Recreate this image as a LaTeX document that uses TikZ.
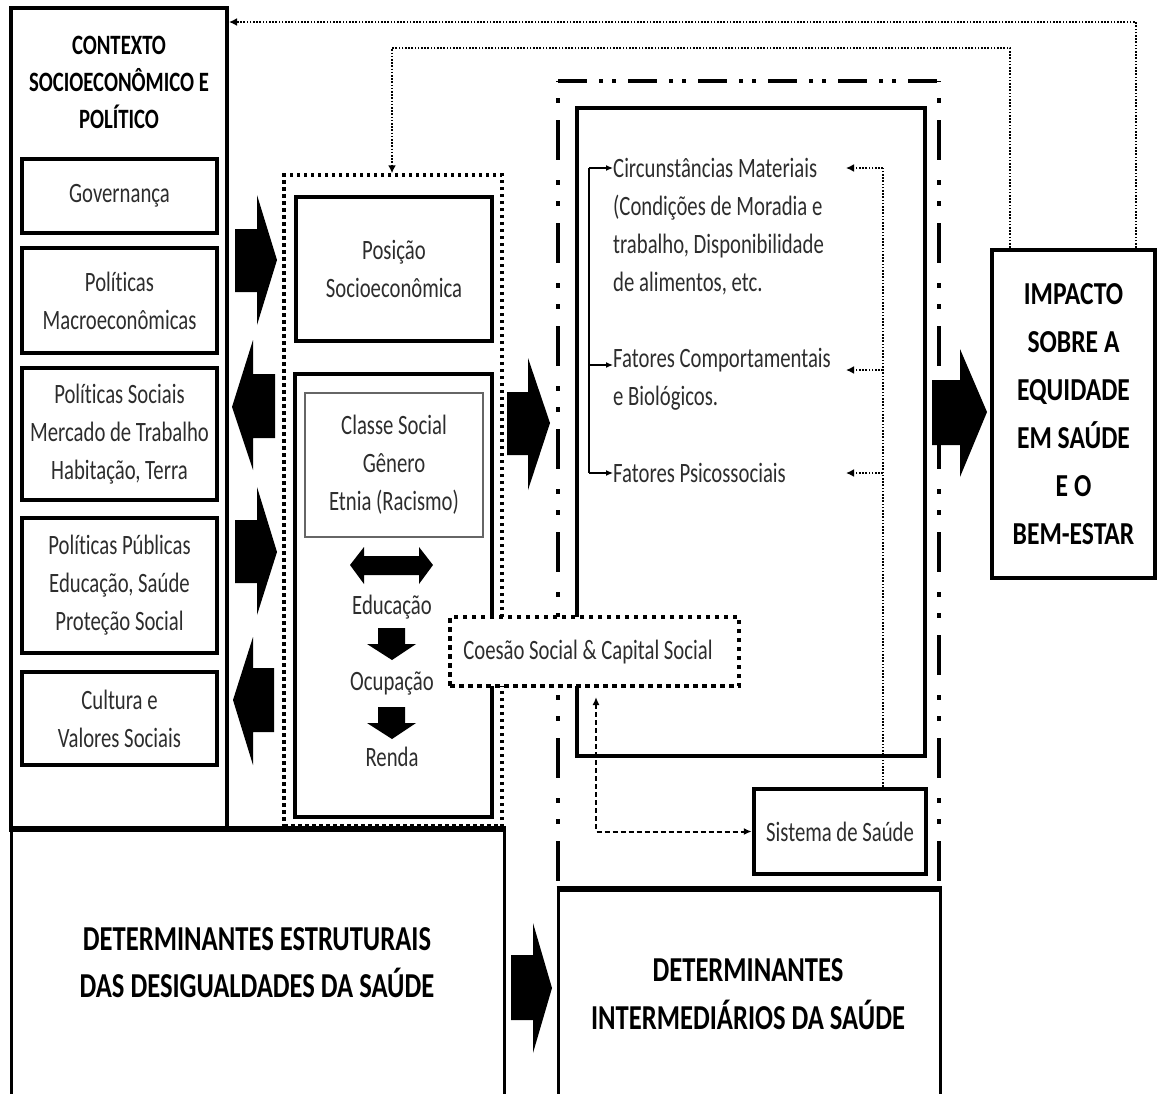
\documentclass[tikz,border=0pt]{standalone}
\usepackage{fontspec}
\defaultfontfeatures{Ligatures={NoCommon,NoContextual,NoRare,NoRequired},Contextuals=NoAlternate}
\setmainfont{Carlito}[FakeStretch=0.74]
\newfontfamily\impfont{Carlito}[FakeStretch=0.8]
\newfontfamily\detfont{Carlito}[FakeStretch=0.76]
\usetikzlibrary{arrows.meta}
\definecolor{txt}{RGB}{45,45,45}
\tikzset{
  txtn/.style={inner sep=0pt, align=center, text=txt, font=\fontsize{28}{38}\selectfont},
  boldn/.style={inner sep=0pt, align=center, text=black, font=\fontsize{28}{37}\selectfont\bfseries},
  boxa/.style={draw=black, line width=4.5pt, fill=white, inner sep=0pt, align=center, text=txt, font=\fontsize{28}{38}\selectfont},
  thinbox/.style={draw=black!60, line width=1.3pt, fill=white, inner sep=0pt, align=center, text=txt, font=\fontsize{28}{38}\selectfont},
  dotbox/.style={draw=black, line width=3.5pt, dash pattern=on 3.5pt off 3.5pt},
  coesbox/.style={draw=black, line width=4pt, dash pattern=on 4.5pt off 4.5pt, fill=white},
  bigbox/.style={draw=black, line width=3pt, fill=white, inner sep=0pt},
  fbline/.style={line width=1.6pt, dash pattern=on 1.6pt off 1.6pt},
  fbtip/.style={-{Latex[length=8pt,width=8pt]}},
  thinarrow/.style={line width=1.2pt, -{Latex[length=7pt,width=6pt]}},
  dshline/.style={line width=2pt, dash pattern=on 5pt off 3pt},
  ddh/.style={line width=4pt, dash pattern=on 29pt off 12pt on 4pt off 9pt on 4pt off 12pt},
  ddv/.style={line width=4pt, dash pattern=on 40pt off 20pt on 5pt off 16pt on 5pt off 17pt, dash phase=64pt},
  blk/.style={fill=black}
}
\begin{document}
\begin{tikzpicture}[x=1pt,y=-1pt]
\useasboundingbox (0,0) rectangle (1158,1093);
\fill[white] (0,0) rectangle (1158,1093);

% left column
\node[boxa, line width=4pt, minimum width=216, minimum height=822] (ctx) at (119,419) {};
\node[boldn] (title) at (119,82) {CONTEXTO\\SOCIOECONÔMICO E\\POLÍTICO};
\node[boxa, minimum width=195, minimum height=74] (gov) at (119.5,196) {Governança};
\node[boxa, minimum width=195, minimum height=105] (mac) at (119.5,300.5) {Políticas\\Macroeconômicas};
\node[boxa, minimum width=195, minimum height=132] (soc) at (119.5,434) {Políticas Sociais\\Mercado de Trabalho\\Habitação, Terra};
\node[boxa, minimum width=195, minimum height=135] (pub) at (119.5,585.5) {Políticas Públicas\\Educação, Saúde\\Proteção Social};
\node[boxa, minimum width=195, minimum height=93] (cul) at (119.5,718.5) {Cultura e\\Valores Sociais};

% dash-dot frame
\coordinate (fa) at (558,81);
\coordinate (fb) at (939,81);
\coordinate (fc) at (558,890);
\coordinate (fd) at (939,890);
\draw[ddh] (fa) -- (fb);
\draw[ddv] (fa) -- (fc);
\draw[ddv] (fb) -- (fd);

% middle column
\node[dotbox, minimum width=218, minimum height=651] (dbox) at (393,500.5) {};
\node[boxa, minimum width=196, minimum height=144] (pos) at (394,269) {Posição\\Socioeconômica};
\node[boxa, minimum width=197, minimum height=443] (cls) at (393.5,595.5) {};
\node[thinbox, minimum width=178, minimum height=144] (grp) at (394,465) {Classe Social\\Gênero\\Etnia (Racismo)};
\node[txtn] (edu) at (392,607) {Educação};
\node[txtn] (ocu) at (392,683) {Ocupação};
\node[txtn] (ren) at (392,757) {Renda};
\fill[blk] (350,565) -- (364,547) -- (364,556) -- (419,556) -- (419,547) -- (433,565) -- (419,584) -- (419,575) -- (364,575) -- (364,584) -- cycle;
\fill[blk] (378,628) -- (405,628) -- (405,644) -- (416,644) -- (392,660) -- (367,644) -- (378,644) -- cycle;
\fill[blk] (378,707) -- (405,707) -- (405,723) -- (416,723) -- (392,739) -- (367,723) -- (378,723) -- cycle;

% intermediate inner box
\node[boxa, minimum width=348, minimum height=648] (det) at (751,432) {};
\node[txtn, align=left, anchor=west] (circ) at (613,226.5) {Circunstâncias Materiais\\(Condições de Moradia e\\trabalho, Disponibilidade\\de alimentos, etc.};
\node[txtn, align=left, anchor=west] (comp) at (613,379) {Fatores Comportamentais\\e Biológicos.};
\node[txtn, align=left, anchor=west] (psic) at (613,473) {Fatores Psicossociais};

% bottom boxes
\node[bigbox, minimum width=493, minimum height=270] (str) at (257.5,965) {};
\draw[line width=5pt] (str.north west) -- (str.north east);
\node[inner sep=0pt, align=center, font=\detfont\fontsize{35}{47}\selectfont\bfseries] (strt) at (257,963) {DETERMINANTES ESTRUTURAIS\\DAS DESIGUALDADES DA SAÚDE};
\node[bigbox, minimum width=382, minimum height=210] (int) at (749,995) {};
\draw[line width=5pt] (int.north west) -- (int.north east);
\node[inner sep=0pt, align=center, font=\detfont\fontsize{35}{48}\selectfont\bfseries] (intt) at (748,994) {DETERMINANTES\\INTERMEDIÁRIOS DA SAÚDE};

% sistema de saude
\node[boxa, minimum width=172, minimum height=85] (sis) at (840,831.5) {Sistema de Saúde};

% coesao
\node[coesbox, minimum width=289, minimum height=69] (coes) at (594.5,651.5) {};
\node[txtn] (coest) at (588,652) {Coesão Social \& Capital Social};

% impacto
\node[boxa, minimum width=163, minimum height=328, text=black, font=\impfont\fontsize{32}{48}\selectfont\bfseries] (imp) at (1073.5,414) {IMPACTO\\SOBRE A\\EQUIDADE\\EM SAÚDE\\E O\\BEM-ESTAR};

% block arrows
\fill[blk] (235,229) -- (257,229) -- (257,195) -- (277,260) -- (257,325) -- (257,292) -- (235,292) -- cycle;
\fill[blk] (232,407) -- (253,340) -- (253,374) -- (275,374) -- (275,438) -- (253,438) -- (253,470) -- cycle;
\fill[blk] (235,520) -- (257,520) -- (257,487) -- (277,552) -- (257,615) -- (257,583) -- (235,583) -- cycle;
\fill[blk] (233,700) -- (253,637) -- (253,668) -- (274,668) -- (274,732) -- (253,732) -- (253,765) -- cycle;
\fill[blk] (507,392) -- (528,392) -- (528,358) -- (550,423) -- (528,490) -- (528,455) -- (507,455) -- cycle;
\fill[blk] (932,380) -- (960,380) -- (960,349) -- (987,412) -- (960,477) -- (960,445) -- (932,445) -- cycle;
\fill[blk] (511,955) -- (533,955) -- (533,923) -- (552,988) -- (533,1053) -- (533,1020) -- (511,1020) -- cycle;

% feedback lines from impacto
\coordinate (t1) at (1136,22);
\draw[fbline, fbtip] (imp.north -| t1) -- (t1) -- (t1 -| ctx.east);
\coordinate (t2) at (1010,48);
\coordinate (t3) at (392,48);
\draw[fbline, fbtip] (imp.north -| t2) -- (t2) -- (t3) -- (t3 |- dbox.north);

% feedback from sistema de saude
\coordinate (ra) at (883,168);
\coordinate (rb) at (883,370);
\coordinate (rc) at (883,473);
\coordinate (qa) at (846,168);
\coordinate (qb) at (846,370);
\coordinate (qc) at (846,473);
\draw[fbline] (sis.north -| ra) -- (ra);
\draw[fbline, fbtip] (ra) -- (qa);
\draw[fbline, fbtip] (rb) -- (qb);
\draw[fbline, fbtip] (rc) -- (qc);

% bracket
\coordinate (ba) at (589,168);
\coordinate (bb) at (589,365);
\coordinate (bc) at (589,473);
\draw[line width=1.2pt] (ba) -- (bc);
\draw[thinarrow] (ba) -- (circ.west |- ba);
\draw[thinarrow] (bb) -- (comp.west |- bb);
\draw[thinarrow] (bc) -- (psic.west |- bc);

% dashed sistema <-> coesao
\coordinate (d0) at (596,831.5);
\coordinate (d1) at (596,697);
\draw[dshline, {Latex[length=8pt,width=7pt]}-{Latex[length=8pt,width=7pt]}] (d1) -- (d0) -- (sis.west);
\end{tikzpicture}
\end{document}
